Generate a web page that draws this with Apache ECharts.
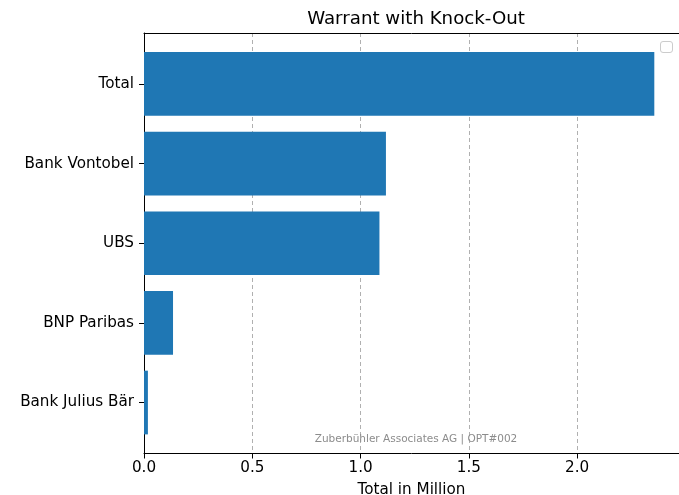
<!DOCTYPE html>
<html>
<head>
<meta charset="utf-8">
<script src="https://cdn.jsdelivr.net/npm/echarts@6/dist/echarts.min.js"></script>
<style>html,body{margin:0;padding:0;background:#fff;}#c{width:679px;height:495px;}</style>
</head>
<body>
<div id="c"></div>
<script>
// bottom-to-top order (as plotted)
const categories = ['Bank Julius Bär', 'BNP Paribas', 'UBS', 'Bank Vontobel', 'Total'];
const values = [0.018, 0.134, 1.087, 1.117, 2.356];
const xTicks = [0, 0.5, 1.0, 1.5, 2.0];

const chart = echarts.init(document.getElementById('c'), null, {renderer: 'canvas'});
const font = 'DejaVu Sans';
const idx = categories.map((_, i) => i);

chart.setOption({
  animation: false,
  backgroundColor: '#ffffff',
  title: [{
    text: 'Warrant with Knock-Out',
    left: 411, top: 5, textAlign: 'center',
    textStyle: {fontFamily: font, fontSize: 18.2, fontWeight: 'normal', color: '#000'}
  }, {
    text: 'Zuberbühler Associates AG | OPT#002',
    left: 411, top: 429, textAlign: 'center',
    textStyle: {fontFamily: font, fontSize: 10.5, fontWeight: 'normal', color: '#8c8c8c'}
  }],
  grid: {left: 144, right: 0, top: 33, bottom: 41.5, containLabel: false, outerBoundsMode: 'none'},
  xAxis: [{
    type: 'value', min: 0, max: 2.47, interval: 0.5, position: 'bottom',
    name: 'Total in Million', nameLocation: 'middle', nameGap: 29,
    nameTextStyle: {fontFamily: font, fontSize: 15.2, color: '#000'},
    axisLine: {show: true, onZero: false, lineStyle: {color: '#000', width: 1}},
    axisTick: {show: true, length: 5, lineStyle: {color: '#000'}, customValues: xTicks},
    axisLabel: {fontFamily: font, fontSize: 15.2, color: '#000', margin: 7,
      customValues: xTicks, formatter: v => v.toFixed(1)},
    splitLine: {show: true, lineStyle: {color: '#b0b0b0', type: [4, 3], width: 1}}
  }, {
    type: 'value', min: 0, max: 2.47, position: 'top',
    axisLine: {show: true, onZero: false, lineStyle: {color: '#000', width: 1}},
    axisTick: {show: false}, axisLabel: {show: false}, splitLine: {show: false}
  }],
  yAxis: {
    type: 'value', min: -0.64, max: 4.64,
    axisLine: {show: true, onZero: false, lineStyle: {color: '#000', width: 1}},
    axisTick: {show: true, length: 5, lineStyle: {color: '#000'}, customValues: idx},
    axisLabel: {fontFamily: font, fontSize: 15.2, color: '#000', margin: 10,
      customValues: idx, formatter: v => categories[Math.round(v)]},
    splitLine: {show: false}
  },
  graphic: [{
    type: 'rect', right: 6, top: 41,
    shape: {width: 12, height: 11, r: 2.5},
    style: {fill: '#fff', stroke: '#cccccc', lineWidth: 1}
  }],
  series: [{
    type: 'custom',
    xAxisIndex: 0,
    data: values.map((v, i) => [v, i]),
    renderItem: function (params, api) {
      const x0 = api.coord([0, api.value(1)]);
      const x1 = api.coord([api.value(0), api.value(1)]);
      const h = api.size([0, 0.8])[1];
      return {
        type: 'rect',
        shape: {x: x0[0], y: x0[1] - h / 2, width: x1[0] - x0[0], height: h},
        style: {fill: '#1f77b4'}
      };
    }
  }]
});
</script>
</body>
</html>
